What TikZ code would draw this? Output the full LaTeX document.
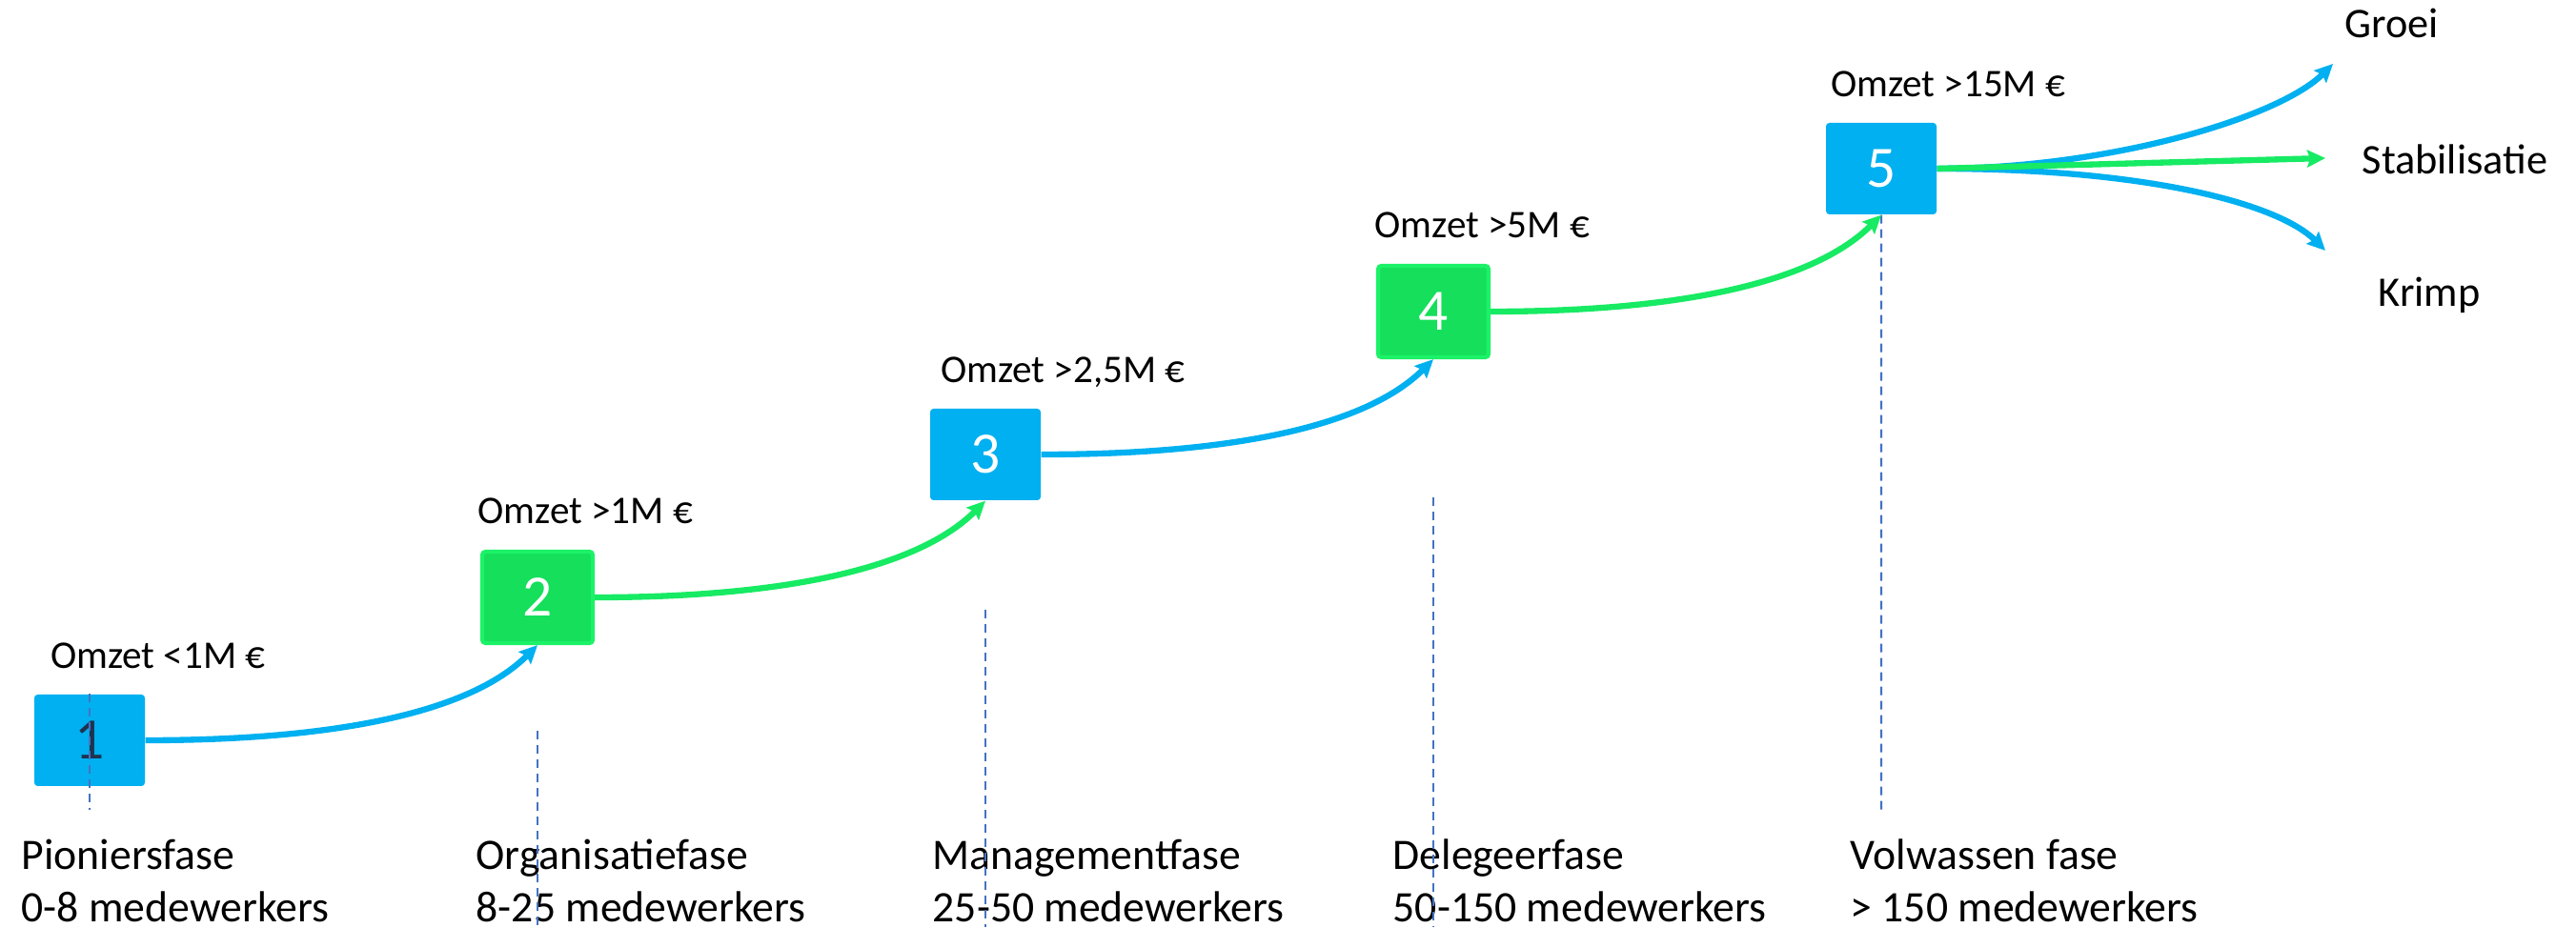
\documentclass[tikz,border=0pt]{standalone}
\usepackage{fontspec}
\setmainfont{Carlito}
\usetikzlibrary{positioning}
\usetikzlibrary{calc}
\usetikzlibrary{arrows.meta}

\definecolor{faseblue}{HTML}{00B0F0}
\definecolor{fasegreen}{HTML}{15DF5B}
\definecolor{faserim}{HTML}{1CF267}
\definecolor{pijlgreen}{HTML}{17EA63}
\definecolor{hulpblauw}{HTML}{4472C4}
\definecolor{cijferdonker}{HTML}{1F3350}

\tikzset{
  fasebox/.style={minimum width=1.16cm, minimum height=0.96cm, inner sep=0pt,
    rounded corners=1pt, text=white, font=\fontsize{17.5}{20}\selectfont},
  bluebox/.style={fasebox, fill=faseblue},
  greenbox/.style={fasebox, fill=fasegreen, draw=faserim, line width=1.2pt},
  omzet/.style={anchor=base west, inner sep=0pt, font=\fontsize{11.7}{14}\selectfont},
  faselabel/.style={anchor=base west, inner sep=0pt, align=left,
    font=\fontsize{13}{15.6}\selectfont},
  uitkomst/.style={anchor=base west, inner sep=0pt, font=\fontsize{12.6}{15}\selectfont},
  pijl/.style={line width=1.8pt, -{Stealth[length=0.19cm, width=0.18cm, inset=0.03cm]}},
  bluepijl/.style={pijl, draw=faseblue},
  greenpijl/.style={pijl, draw=pijlgreen},
  hulplijn/.style={draw=hulpblauw, line width=0.6pt, dash pattern=on 0.09cm off 0.06cm}
}

\begin{document}
\begin{tikzpicture}
\useasboundingbox (0,0) rectangle (27.03,9.73);

% fasen
\node[bluebox, text=cijferdonker] (fase1) at (0.94,1.96) {1};
\node[greenbox] (fase2) at ($(fase1)+(4.70,1.50)$) {2};
\node[bluebox] (fase3) at ($(fase2)+(4.70,1.50)$) {3};
\node[greenbox] (fase4) at ($(fase3)+(4.70,1.50)$) {4};
\node[bluebox] (fase5) at ($(fase4)+(4.70,1.50)$) {5};

\node[omzet] (omzet1) at ($(fase1.north west)+(0.17,0.27)$) {Omzet <1M €};
\node[omzet] (omzet2) at ($(fase2.north west)+(-0.03,0.27)$) {Omzet >1M €};
\node[omzet] (omzet3) at ($(fase3.north west)+(0.11,0.27)$) {Omzet >2,5M €};
\node[omzet] (omzet4) at ($(fase4.north west)+(-0.02,0.27)$) {Omzet >5M €};
\node[omzet] (omzet5) at ($(fase5.north west)+(0.05,0.27)$) {Omzet >15M €};

\node[faselabel] (naam1) at (0.22,0.06) {Pioniersfase\\0-8 medewerkers};
\node[faselabel] (naam2) at (4.99,0.06) {Organisatiefase\\8-25 medewerkers};
\node[faselabel] (naam3) at (9.78,0.06) {Managementfase\\25-50 medewerkers};
\node[faselabel] (naam4) at (14.61,0.06) {Delegeerfase\\50-150 medewerkers};
\node[faselabel] (naam5) at (19.41,0.06) {Volwassen fase\\> 150 medewerkers};

\node[uitkomst] (groei) at (24.60,9.33) {Groei};
\node[uitkomst] (stabilisatie) at (24.78,7.90) {Stabilisatie};
\node[uitkomst] (krimp) at (24.95,6.51) {Krimp};

\coordinate (groeipunt) at (24.48,9.06);
\coordinate (stabpunt) at (24.40,8.07);
\coordinate (krimppunt) at (24.40,7.10);

%\coordinate (onder0) at (0.94,0);
\coordinate (onder1) at (0.94,1.23);
\coordinate (boven2) at (5.64,2.06);
\coordinate (onder2) at (5.64,0);
\coordinate (boven3) at (10.34,3.33);
\coordinate (onder3) at (10.34,0);
\coordinate (boven4) at (15.04,4.51);
\coordinate (onder4) at (15.04,0);
\coordinate (onder5) at (19.74,1.18);

\draw[hulplijn] (fase1.north) -- (onder1);
\draw[hulplijn] (boven2) -- (onder2);
\draw[hulplijn] (boven3) -- (onder3);
\draw[hulplijn] (boven4) -- (onder4);
\draw[hulplijn] (fase5.south) -- (onder5);

% overgangen
\draw[bluepijl] (fase1.east) to[out=0, in=225, out distance=2cm, in distance=1cm] (fase2.south);
\draw[greenpijl] (fase2.east) to[out=0, in=225, out distance=2cm, in distance=1cm] (fase3.south);
\draw[bluepijl] (fase3.east) to[out=0, in=225, out distance=2cm, in distance=1cm] (fase4.south);
\draw[greenpijl] (fase4.east) to[out=0, in=225, out distance=2cm, in distance=1cm] (fase5.south);

\draw[bluepijl] (fase5.east) to[out=0, in=225, out distance=1.8cm, in distance=0.8cm] (groeipunt);
\draw[bluepijl] (fase5.east) to[out=0, in=135, out distance=2.2cm, in distance=0.7cm] (krimppunt);
\draw[greenpijl] (fase5.east) -- (stabpunt);
\end{tikzpicture}
\end{document}
